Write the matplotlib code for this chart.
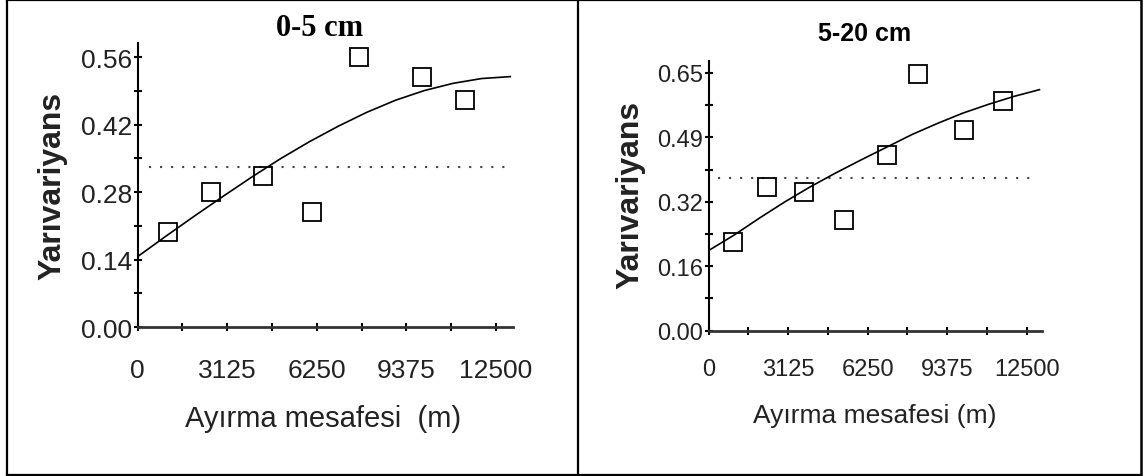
import matplotlib
matplotlib.use("Agg")
import matplotlib.pyplot as plt
from matplotlib.lines import Line2D
from matplotlib.ticker import MultipleLocator, FixedLocator, FixedFormatter

# ---------------- data ----------------
titles = ["0-5 cm", "5-20 cm"]
ylabel = "Yarıvariyans"
xlabels = ["Ayırma mesafesi  (m)", "Ayırma mesafesi (m)"]

x_ticks = [0, 3125, 6250, 9375, 12500]
x_tick_labels = ["0", "3125", "6250", "9375", "12500"]

# 0-5 cm
lag_05 = [1060, 2575, 4381, 6094, 7737, 9918, 11431]
semivar_05 = [0.198, 0.280, 0.314, 0.238, 0.560, 0.519, 0.472]
model_x_05 = [0, 1000, 2000, 3000, 4000, 5000, 6000, 7000, 8000, 9000,
              10000, 11000, 12000, 13000]
model_y_05 = [0.146, 0.189, 0.231, 0.272, 0.312, 0.350, 0.385, 0.417, 0.446,
              0.471, 0.491, 0.506, 0.516, 0.520]
sill_05 = 0.333
sill_x_05 = [396, 12859]
y_ticks_05 = [0.00, 0.14, 0.28, 0.42, 0.56]
y_tick_labels_05 = ["0.00", "0.14", "0.28", "0.42", "0.56"]

# 5-20 cm
lag_520 = [963, 2309, 3762, 5306, 7021, 8248, 10030, 11550]
semivar_520 = [0.223, 0.362, 0.351, 0.278, 0.443, 0.648, 0.505, 0.580]
model_x_520 = [0, 1000, 2000, 3000, 4000, 5000, 6000, 7000, 8000, 9000,
               10000, 11000, 12000, 13000]
model_y_520 = [0.202, 0.241, 0.284, 0.325, 0.363, 0.398, 0.431, 0.463, 0.495,
               0.523, 0.549, 0.571, 0.591, 0.608]
sill_520 = 0.384
sill_x_520 = [368, 12820]
y_ticks_520 = [0.0, 0.1625, 0.325, 0.4875, 0.65]
y_tick_labels_520 = ["0.00", "0.16", "0.32", "0.49", "0.65"]

# ---------------- figure ----------------
W, H = 1146, 477
fig = plt.figure(figsize=(W / 100, H / 100), dpi=100)
fig.patch.set_facecolor("white")

SANS = ["Liberation Sans", "DejaVu Sans"]
SERIF = ["Liberation Serif", "DejaVu Serif"]


def ax_rect(x0, x1, ytop, ybot):
    return [x0 / W, (H - ybot) / H, (x1 - x0) / W, (ybot - ytop) / H]


panels = [
    dict(rect=ax_rect(137.5, 513.2, 43.9, 328.0), xlim=13100, ylim=0.59,
         lag=lag_05, sv=semivar_05, mx=model_x_05, my=model_y_05,
         sill=sill_05, sx=sill_x_05, yt=y_ticks_05, ytl=y_tick_labels_05,
         ystep=0.07, tfs=19, xlfs=21, ylfs=23, title=titles[0],
         tfam=SERIF, ttfs=22, title_xy=(320, 29), xlabel=xlabels[0],
         xl_xy=(323, 419), yl_xy=(52, 186), xpad=19),
    dict(rect=ax_rect(708.5, 1041.5, 61.7, 331.7), xlim=13080, ylim=0.681,
         lag=lag_520, sv=semivar_520, mx=model_x_520, my=model_y_520,
         sill=sill_520, sx=sill_x_520, yt=y_ticks_520, ytl=y_tick_labels_520,
         ystep=0.08125, tfs=17, xlfs=19, ylfs=23, title=titles[1],
         tfam=SANS, ttfs=18, title_xy=(865, 34), xlabel=xlabels[1],
         xl_xy=(875, 416), yl_xy=(630, 195), xpad=17),
]

for p in panels:
    ax = fig.add_axes(p["rect"])
    ax.set_xlim(0, p["xlim"])
    ax.set_ylim(0, p["ylim"])
    ax.patch.set_alpha(0)
    for s in ["top", "right"]:
        ax.spines[s].set_visible(False)
    ax.spines["left"].set_linewidth(1.5)
    ax.spines["bottom"].set_linewidth(2.0)
    ax.spines["bottom"].set_color("#333333")

    # ticks
    ax.xaxis.set_major_locator(FixedLocator(x_ticks))
    ax.xaxis.set_major_formatter(FixedFormatter(x_tick_labels))
    ax.xaxis.set_minor_locator(MultipleLocator(1562.5))
    ax.yaxis.set_major_locator(FixedLocator(p["yt"]))
    ax.yaxis.set_major_formatter(FixedFormatter(p["ytl"]))
    ax.yaxis.set_minor_locator(MultipleLocator(p["ystep"]))
    ax.tick_params(which="both", direction="inout", length=6, width=1.5,
                   color="black")
    ax.tick_params(axis="x", pad=p["xpad"])
    ax.tick_params(axis="y", pad=1)
    for lab in ax.get_xticklabels() + ax.get_yticklabels():
        lab.set_fontfamily(SANS)
        lab.set_fontsize(p["tfs"])
        lab.set_color("#222222")

    # sill (dotted)
    ax.plot(p["sx"], [p["sill"], p["sill"]], color="#444444", lw=1.5,
            linestyle=(0, (1, 4.3)), solid_capstyle="butt")
    # model curve
    ax.plot(p["mx"], p["my"], color="black", lw=1.2)
    # experimental semivariances
    ax.plot(p["lag"], p["sv"], linestyle="none", marker="s", ms=13,
            mfc="none", mec="black", mew=1.3, clip_on=False)

    fig.text(p["title_xy"][0] / W, 1 - p["title_xy"][1] / H, p["title"],
             ha="center", va="center", fontsize=p["ttfs"],
             fontweight="bold", family=p["tfam"])
    fig.text(p["xl_xy"][0] / W, 1 - p["xl_xy"][1] / H, p["xlabel"],
             ha="center", va="center", fontsize=p["xlfs"], family=SANS,
             color="#222222")
    fig.text(p["yl_xy"][0] / W, 1 - p["yl_xy"][1] / H, ylabel,
             ha="center", va="center", rotation=90, fontsize=p["ylfs"],
             fontweight="bold", family=SANS, color="#222222")

# panel frames
def fline(x0, y0, x1, y1, lw):
    fig.add_artist(Line2D([x0 / W, x1 / W], [1 - y0 / H, 1 - y1 / H],
                          transform=fig.transFigure, color="black", lw=lw,
                          solid_capstyle="projecting"))

fline(7, 1, 1141, 1, 1.6)
fline(7, 475.5, 1141, 475.5, 1.6)
fline(7, 1, 7, 475.5, 1.6)
fline(1141, 1, 1141, 475.5, 1.8)
fline(577.8, 1, 577.8, 475.5, 1.6)

fig.savefig("out.png", dpi=100)
